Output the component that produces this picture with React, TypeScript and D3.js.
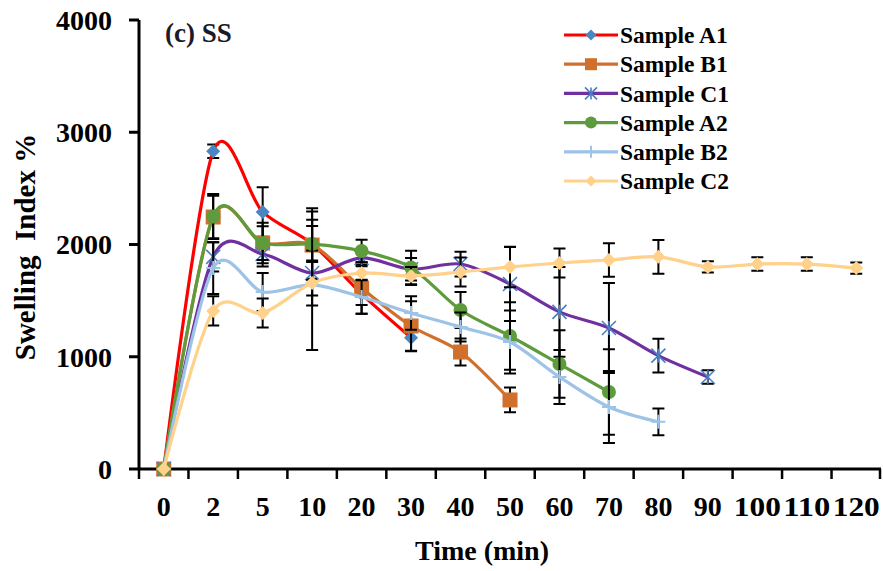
import React from 'react';
import * as d3 from 'd3';

// time points (categorical axis)
const categories = ['0', '2', '5', '10', '20', '30', '40', '50', '60', '70', '80', '90', '100', '110', '120'];
const yTicks = [0, 1000, 2000, 3000, 4000];

// swelling index values, null = not measured
const sampleA1 = [0, 2830, 2290, 2005, 1560, 1170, null, null, null, null, null, null, null, null, null];
const sampleB1 = [0, 2245, 2013, 1995, 1612, 1274, 1042, 615, null, null, null, null, null, null, null];
const sampleC1 = [0, 1890, 1915, 1746, 1880, 1780, 1826, 1648, 1400, 1256, 1010, 820, null, null, null];
const sampleA2 = [0, 2250, 2013, 2004, 1942, 1795, 1416, 1185, 935, 686, null, null, null, null, null];
const sampleB2 = [0, 1790, 1577, 1640, 1532, 1390, 1265, 1131, 820, 552, 420, null, null, null, null];
const sampleC2 = [0, 1408, 1390, 1657, 1746, 1720, 1755, 1800, 1835, 1862, 1890, 1800, 1826, 1826, 1790];

// standard deviations
const errA1 = [0, 60, 220, 160, 100, 120, 0, 0, 0, 0, 0, 0, 0, 0, 0];
const errB1 = [0, 190, 180, 300, 230, 220, 120, 110, 0, 0, 0, 0, 0, 0, 0];
const errC1 = [0, 130, 110, 200, 60, 100, 110, 330, 400, 400, 150, 60, 0, 0, 0];
const errA2 = [0, 200, 150, 320, 100, 150, 160, 300, 300, 380, 0, 0, 0, 0, 0];
const errB2 = [0, 230, 170, 580, 150, 150, 130, 280, 240, 320, 120, 0, 0, 0, 0];
const errC2 = [0, 130, 130, 200, 60, 80, 130, 180, 130, 150, 150, 50, 60, 60, 50];

const seriesNames = ['Sample A1', 'Sample B1', 'Sample C1', 'Sample A2', 'Sample B2', 'Sample C2'];

const series = [
  { name: seriesNames[0], values: sampleA1, err: errA1, line: '#ff0000', marker: 'diamond', fill: '#4a86c2', size: 7 },
  { name: seriesNames[1], values: sampleB1, err: errB1, line: '#d0702c', marker: 'square', fill: '#d0702c', size: 7.5 },
  { name: seriesNames[2], values: sampleC1, err: errC1, line: '#7030a0', marker: 'star', fill: '#4a7ec2', size: 7 },
  { name: seriesNames[3], values: sampleA2, err: errA2, line: '#5e9b3c', marker: 'circle', fill: '#5e9b3c', size: 7 },
  { name: seriesNames[4], values: sampleB2, err: errB2, line: '#9dc3e6', marker: 'plus', fill: '#9dc3e6', size: 7 },
  { name: seriesNames[5], values: sampleC2, err: errC2, line: '#ffd18a', marker: 'diamond', fill: '#ffd18a', size: 7 },
];

const FONT = '"Liberation Serif", "Times New Roman", serif';

function Marker({ type, x, y, r, fill }: { type: string; x: number; y: number; r: number; fill: string }) {
  if (type === 'diamond') {
    return <path d={`M${x},${y - r}L${x + r},${y}L${x},${y + r}L${x - r},${y}Z`} fill={fill} />;
  }
  if (type === 'square') {
    return <rect x={x - r} y={y - r} width={r * 2} height={r * 2} fill={fill} />;
  }
  if (type === 'circle') {
    return <circle cx={x} cy={y} r={r} fill={fill} />;
  }
  if (type === 'plus') {
    return (
      <path d={`M${x - r},${y}H${x + r}M${x},${y - r}V${y + r}`} stroke={fill} strokeWidth={2} fill="none" />
    );
  }
  // asterisk
  return (
    <path
      d={`M${x - r},${y - r}L${x + r},${y + r}M${x - r},${y + r}L${x + r},${y - r}M${x},${y - r}V${y + r}`}
      stroke={fill}
      strokeWidth={1.6}
      fill="none"
    />
  );
}

export default function App() {
  const width = 883;
  const height = 571;

  const x = d3.scaleBand<string>().domain(categories).range([139, 881]).padding(0);
  const y = d3.scaleLinear().domain([0, 4000]).range([469, 20]);
  const cx = (c: string) => (x(c) as number) + x.bandwidth() / 2;

  // Excel-like smoothed line
  const line = d3
    .line<[number, number]>()
    .x((d) => d[0])
    .y((d) => d[1])
    .curve(d3.curveCardinal.tension(0.1));

  return (
    <svg width={width} height={height} style={{ position: 'absolute', left: 0, top: 0, background: '#fff' }}>
      {/* y axis */}
      <line x1={139} x2={139} y1={y(4000)} y2={y(0)} stroke="#000" strokeWidth={3} />
      {yTicks.map((t) => (
        <g key={t}>
          <line x1={129} x2={139} y1={y(t)} y2={y(t)} stroke="#000" strokeWidth={3} />
          <text x={112} y={y(t)} dy="0.35em" textAnchor="end" fontFamily={FONT} fontWeight="bold" fontSize={28}>
            {t}
          </text>
        </g>
      ))}
      {/* x axis */}
      <line x1={139} x2={881} y1={y(0)} y2={y(0)} stroke="#000" strokeWidth={3} />
      {categories.map((c) => (
        <line
          key={'t' + c}
          x1={x(c) as number}
          x2={x(c) as number}
          y1={y(0)}
          y2={y(0) + 10}
          stroke="#000"
          strokeWidth={2.5}
        />
      ))}
      <line x1={880} x2={880} y1={y(0)} y2={y(0) + 10} stroke="#000" strokeWidth={2.5} />
      {categories.map((c) => (
        <text
          key={'l' + c}
          x={cx(c)}
          y={516}
          textAnchor="middle"
          fontFamily={FONT}
          fontWeight="bold"
          fontSize={28}
          textLength={c.length === 3 ? 47 : undefined}
          lengthAdjust="spacingAndGlyphs"
        >
          {c}
        </text>
      ))}
      <text x={482} y={560} textAnchor="middle" fontFamily={FONT} fontWeight="bold" fontSize={28}>
        Time (min)
      </text>
      <text
        transform={`translate(35,247) rotate(-90)`}
        textAnchor="middle"
        fontFamily={FONT}
        fontWeight="bold"
        fontSize={29}
        style={{ whiteSpace: 'pre' }}
      >
        {'Swelling  Index %'}
      </text>
      <text x={165} y={42} fontFamily={FONT} fontWeight="bold" fontSize={27} fill="#1a1a2a">
        (c) SS
      </text>

      {/* series */}
      {series.map((s) => {
        const pts: [number, number][] = [];
        s.values.forEach((v, i) => {
          if (v !== null) pts.push([cx(categories[i]), y(v)]);
        });
        return (
          <g key={s.name}>
            {s.values.map((v, i) => {
              if (v === null || !s.err[i]) return null;
              const px = cx(categories[i]);
              const top = y(v + s.err[i]);
              const bot = y(v - s.err[i]);
              return (
                <path
                  key={i}
                  d={`M${px},${top}V${bot}M${px - 6},${top}H${px + 6}M${px - 6},${bot}H${px + 6}`}
                  stroke="#000"
                  strokeWidth={2}
                  fill="none"
                />
              );
            })}
            <path d={line(pts) || ''} fill="none" stroke={s.line} strokeWidth={3.2} />
            {pts.map((p, i) => (
              <Marker key={i} type={s.marker} x={p[0]} y={p[1]} r={s.size} fill={s.fill} />
            ))}
          </g>
        );
      })}

      {/* legend */}
      {series.map((s, i) => {
        const ly = 35 + i * 29.2;
        return (
          <g key={'lg' + s.name}>
            <line x1={564} x2={618} y1={ly} y2={ly} stroke={s.line} strokeWidth={3.2} />
            <Marker type={s.marker} x={591} y={ly} r={s.marker === 'diamond' ? 5.5 : 6} fill={s.fill} />
            <text x={620} y={ly} dy="0.35em" fontFamily={FONT} fontWeight="bold" fontSize={23.5}>
              {s.name}
            </text>
          </g>
        );
      })}
    </svg>
  );
}
